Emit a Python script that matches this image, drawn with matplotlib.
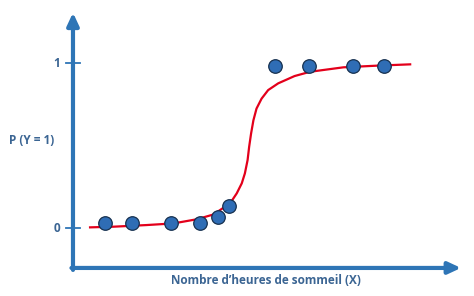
import numpy as np
import matplotlib.pyplot as plt

# observed points (hours of sleep, outcome)
hours = [0.82, 1.52, 2.53, 3.27, 3.74, 4.02, 5.21, 6.08, 7.21, 8.02]
outcome = [0.028, 0.028, 0.028, 0.028, 0.068, 0.133, 0.98, 0.98, 0.98, 0.98]

# fitted curve
curve_x = [0.44, 1.04, 1.90, 2.59, 3.19, 3.62, 4.05, 4.22, 4.35, 4.43, 4.50,
           4.54, 4.59, 4.65, 4.73, 4.86, 5.03, 5.29, 5.51, 5.71, 6.11, 6.97,
           7.83, 8.69]
curve_y = [0.004, 0.008, 0.018, 0.028, 0.053, 0.082, 0.150, 0.210, 0.271,
           0.331, 0.412, 0.492, 0.573, 0.653, 0.724, 0.784, 0.836, 0.877,
           0.900, 0.921, 0.947, 0.974, 0.984, 0.992]

ytick_vals = [0, 1]
ytick_labels = ["0", "1"]

axis_blue = "#2E75B6"
text_blue = "#3B6593"

fig = plt.figure(figsize=(4.74, 2.96), dpi=100)
ax = fig.add_axes([0, 0, 1, 1])
ax.set_xlim(-1.881, 10.335)
ax.set_ylim(-0.412, 1.382)
ax.axis("off")

x0, y0 = 0, -0.242
# axes with arrow heads
ax.annotate("", xy=(x0, 1.305), xytext=(x0, y0 - 0.012),
            arrowprops=dict(arrowstyle="-|>,head_length=0.75,head_width=0.35",
                            color=axis_blue, lw=3, shrinkA=0, shrinkB=0))
ax.annotate("", xy=(10.0, y0), xytext=(x0 - 0.04, y0),
            arrowprops=dict(arrowstyle="-|>,head_length=0.75,head_width=0.35",
                            color=axis_blue, lw=3, shrinkA=0, shrinkB=0))

for v, lab in zip(ytick_vals, ytick_labels):
    ax.plot([-0.18, 0.18], [v, v], color=axis_blue, lw=1.3)
    ax.text(-0.42, v, lab, ha="center", va="center", fontsize=8.5,
            fontweight="bold", color=text_blue, family="Open Sans")

ax.plot(curve_x, curve_y, color="#E3001B", lw=1.6, zorder=3)
ax.scatter(hours, outcome, s=95, color="#2F6DB5", edgecolor="#16304F",
           linewidth=0.9, zorder=4)

ax.text(-1.06, 0.533, "P (Y = 1)", ha="center", va="center", fontsize=8.5,
        fontweight="bold", color=text_blue, family="Open Sans")
ax.text(4.98, -0.32, "Nombre d\u2019heures de sommeil (X)", ha="center",
        va="center", fontsize=8.5, fontweight="bold", color=text_blue,
        family="Open Sans")

fig.savefig("out.png", dpi=100)
